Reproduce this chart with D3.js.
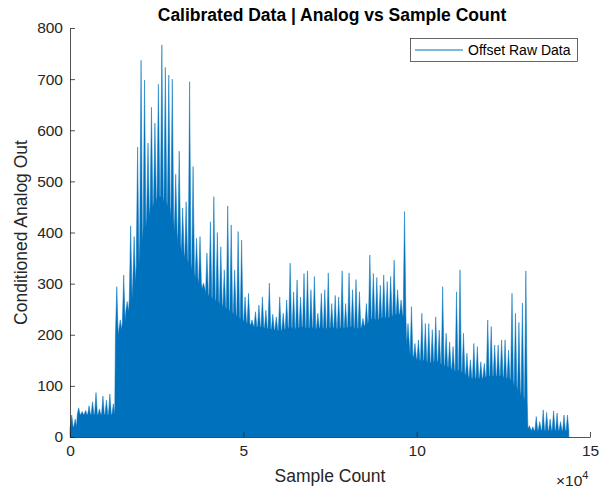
<!DOCTYPE html>
<html>
<head>
<meta charset="utf-8">
<script src="https://cdn.jsdelivr.net/npm/d3@7"></script>
<style>
  body { margin: 0; background: #fff; }
  svg { display: block; font-family: "Liberation Sans", Arial, sans-serif; }
</style>
</head>
<body>
<svg id="chart" width="605" height="489"></svg>
<script>
// bin width in samples (each value below covers one bin)
var binSize = 1000;

// highest sample seen in each bin (spikes)
var peakVals = [
  43, 35, 57, 50, 52, 61, 69, 87, 55, 80, 72, 84, 65,
  294, 229, 317, 265, 413, 392, 567, 737, 698, 575, 645, 614, 690, 767, 723, 708, 700,
  514, 559, 448, 460, 695, 529, 389, 392, 301, 360,
  421, 470, 400, 372, 327, 452, 415, 327, 402, 385,
  274, 281, 229, 245, 258, 274, 248, 301, 240, 235,
  274, 242, 268, 340, 284, 307, 274, 320, 325, 288,
  314, 242, 281, 288, 321, 261, 277, 274, 325, 261,
  321, 288, 308, 284, 232, 261, 356, 320, 312, 297,
  317, 304, 314, 346, 288, 268, 441, 222, 255, 183,
  190, 242, 222, 222, 210, 235, 209, 294, 203, 186,
  177, 284, 327, 203, 164, 151, 183, 177, 147, 144,
  229, 216, 180, 180, 190, 190, 170, 281, 242, 224,
  262, 325, 22, 20, 40, 30, 53, 48, 35, 51,
  47, 30, 43, 43
];

// lowest notch between spikes in each bin (where the dense trace is solid)
var bodyVals = [
  20, 20, 44, 44, 44, 44, 44, 44, 44, 44, 44, 44, 44,
  200, 210, 225, 245, 270, 300, 335, 380, 410, 430, 450, 460, 470, 470, 460, 450, 430,
  400, 380, 360, 350, 340, 325, 310, 300, 290, 280,
  275, 270, 265, 260, 255, 250, 245, 240, 235, 230,
  225, 222, 218, 215, 215, 215, 212, 212, 210, 210,
  208, 210, 212, 215, 212, 212, 215, 215, 212, 215,
  212, 212, 215, 212, 212, 215, 212, 212, 215, 212,
  215, 215, 212, 212, 215, 220, 230, 232, 228, 232,
  235, 232, 235, 240, 240, 240, 235, 180, 160, 155,
  150, 150, 150, 145, 145, 150, 145, 140, 140, 135,
  130, 130, 130, 125, 120, 115, 115, 115, 115, 115,
  120, 120, 120, 120, 120, 115, 115, 110, 100, 90,
  80, 70, 15, 12, 12, 14, 12, 13, 12, 14,
  12, 13, 12, 12
];

var xTicks = [0, 50000, 100000, 150000];
var yTicks = [0, 100, 200, 300, 400, 500, 600, 700, 800];

var titleText = "Calibrated Data | Analog vs Sample Count";
var xLabel = "Sample Count";
var yLabel = "Conditioned Analog Out";
var seriesName = "Offset Raw Data";

var lineColor = "#0072BD";
var axisColor = "#262626";

var svg = d3.select("#chart");
var plotL = 70, plotR = 590, plotT = 28, plotB = 437;

var x = d3.scaleLinear().domain([0, 150000]).range([plotL, plotR]);
var y = d3.scaleLinear().domain([0, 800]).range([plotB, plotT]);

// trace outline: notch at bin edges, spike tip mid-bin
var pts = [];
peakVals.forEach(function (p, i) {
  pts.push({ s: i * binSize + 100, v: bodyVals[i] });
  pts.push({ s: i * binSize + 500, v: p });
  pts.push({ s: i * binSize + 900, v: bodyVals[i] });
});
pts.unshift({ s: 0, v: bodyVals[0] });

var area = d3.area()
  .x(function (d) { return x(d.s); })
  .y0(y(0))
  .y1(function (d) { return y(d.v); });

svg.append("path")
  .datum(pts)
  .attr("d", area)
  .attr("fill", lineColor)
  .attr("stroke", lineColor)
  .attr("stroke-width", 0.5)
  .attr("stroke-linejoin", "miter");

// axes (MATLAB style: ticks pointing inward, no box)
var xAxis = d3.axisBottom(x)
  .tickValues(xTicks)
  .tickFormat(function (d) { return d / 10000; })
  .tickSizeInner(-5)
  .tickSizeOuter(0)
  .tickPadding(8);
var yAxis = d3.axisLeft(y)
  .tickValues(yTicks)
  .tickSizeInner(-5)
  .tickSizeOuter(0)
  .tickPadding(7);

var gx = svg.append("g").attr("transform", "translate(0," + plotB + ")").call(xAxis);
var gy = svg.append("g").attr("transform", "translate(" + plotL + ",0)").call(yAxis);
[gx, gy].forEach(function (g) {
  g.selectAll("path, line").attr("stroke", axisColor).attr("stroke-width", 0.8);
  g.selectAll("text").attr("fill", axisColor).style("font-size", "15.5px");
});

// exponent label
var expo = svg.append("text")
  .attr("x", 556)
  .attr("y", 486)
  .attr("fill", axisColor)
  .style("font-size", "15.5px");
expo.append("tspan").text("\u00d710");
expo.append("tspan").attr("dy", -7).style("font-size", "11px").text("4");

// labels
svg.append("text")
  .attr("x", (plotL + plotR) / 2)
  .attr("y", 482)
  .attr("text-anchor", "middle")
  .attr("fill", axisColor)
  .style("font-size", "17.5px")
  .text(xLabel);

svg.append("text")
  .attr("transform", "translate(27," + ((plotT + plotB) / 2) + ") rotate(-90)")
  .attr("text-anchor", "middle")
  .attr("fill", axisColor)
  .style("font-size", "17.5px")
  .text(yLabel);

svg.append("text")
  .attr("x", 332)
  .attr("y", 21)
  .attr("text-anchor", "middle")
  .attr("fill", "#000")
  .style("font-size", "17.5px")
  .style("font-weight", "bold")
  .text(titleText);

// legend
var lg = svg.append("g");
lg.append("rect")
  .attr("x", 410.5).attr("y", 38.5)
  .attr("width", 167).attr("height", 23)
  .attr("fill", "#fff")
  .attr("stroke", axisColor)
  .attr("stroke-width", 0.7);
lg.append("line")
  .attr("x1", 415).attr("x2", 463)
  .attr("y1", 50).attr("y2", 50)
  .attr("stroke", lineColor)
  .attr("stroke-width", 1);
lg.append("text")
  .attr("x", 468)
  .attr("y", 55)
  .attr("fill", "#000")
  .style("font-size", "14px")
  .text(seriesName);
</script>
</body>
</html>
